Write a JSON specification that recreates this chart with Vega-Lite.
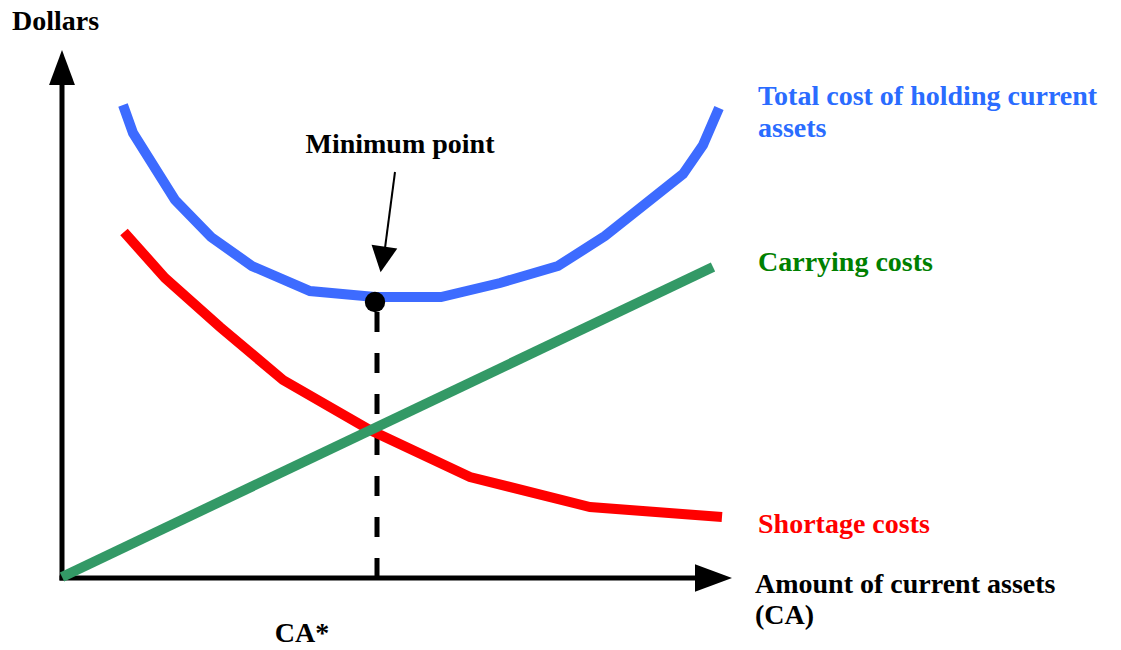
{
  "$schema": "https://vega.github.io/schema/vega-lite/v6.json",
  "width": 1121,
  "height": 650,
  "autosize": "none",
  "padding": 0,
  "background": "white",
  "config": {"view": {"stroke": null}},
  "datasets": {
    "curves": [
      {"series": "Total", "x": 61, "y": 473},
      {"series": "Total", "x": 71, "y": 445},
      {"series": "Total", "x": 113, "y": 378},
      {"series": "Total", "x": 149, "y": 341},
      {"series": "Total", "x": 190, "y": 312},
      {"series": "Total", "x": 248, "y": 287},
      {"series": "Total", "x": 313, "y": 281},
      {"series": "Total", "x": 379, "y": 281},
      {"series": "Total", "x": 438, "y": 295},
      {"series": "Total", "x": 496, "y": 312},
      {"series": "Total", "x": 543, "y": 342},
      {"series": "Total", "x": 621, "y": 404},
      {"series": "Total", "x": 641, "y": 433},
      {"series": "Total", "x": 657, "y": 470},
      {"series": "Shortage", "x": 62, "y": 346},
      {"series": "Shortage", "x": 103, "y": 300},
      {"series": "Shortage", "x": 158, "y": 251},
      {"series": "Shortage", "x": 221, "y": 198},
      {"series": "Shortage", "x": 308, "y": 148},
      {"series": "Shortage", "x": 408, "y": 101},
      {"series": "Shortage", "x": 528, "y": 71},
      {"series": "Shortage", "x": 660, "y": 61},
      {"series": "Carrying", "x": 0, "y": 1},
      {"series": "Carrying", "x": 651, "y": 311}
    ],
    "axes": [
      {"x": 0, "y": 0, "x2": 0, "y2": 500},
      {"x": 0, "y": 0, "x2": 638, "y2": 0}
    ],
    "optimum": [{"x": 315, "y": 0, "y2": 278, "dotx": 313, "doty": 276}],
    "pointer": [{"x": 333, "y": 406, "x2": 323, "y2": 330, "hx": 320.5, "hy": 318.5}],
    "yhead": [{"x": 0, "y": 510.5}],
    "xhead": [{"x": 651.5, "y": 0}],
    "labels": [
      {"group": "axis", "x": -50, "y": 548, "text": "Dollars"},
      {"group": "axis", "x": 693, "y": -15, "text": "Amount of current assets"},
      {"group": "axis", "x": 693, "y": -46, "text": "(CA)"},
      {"group": "total", "x": 696, "y": 473, "text": "Total cost of holding current"},
      {"group": "total", "x": 696, "y": 441, "text": "assets"},
      {"group": "carrying", "x": 696, "y": 307, "text": "Carrying costs"},
      {"group": "shortage", "x": 696, "y": 45, "text": "Shortage costs"}
    ],
    "centered": [
      {"x": 338, "y": 425, "text": "Minimum point"},
      {"x": 240, "y": -64, "text": "CA*"}
    ]
  },
  "layer": [
    {
      "data": {"name": "axes"},
      "mark": {"type": "rule", "color": "black", "strokeWidth": 5, "strokeCap": "square"},
      "encoding": {
        "x": {"field": "x", "type": "quantitative", "scale": {"domain": [-62, 1059], "nice": false, "zero": false}, "axis": null},
        "y": {"field": "y", "type": "quantitative", "scale": {"domain": [-72, 578], "nice": false, "zero": false}, "axis": null},
        "x2": {"field": "x2"},
        "y2": {"field": "y2"}
      }
    },
    {
      "data": {"name": "yhead"},
      "mark": {"type": "point", "shape": "M0,-1L0.74,1L-0.74,1Z", "size": 1225, "filled": true, "color": "black", "opacity": 1},
      "encoding": {
        "x": {"field": "x", "type": "quantitative"},
        "y": {"field": "y", "type": "quantitative"}
      }
    },
    {
      "data": {"name": "xhead"},
      "mark": {"type": "point", "shape": "M0,-1L0.74,1L-0.74,1Z", "size": 1369, "angle": 90, "filled": true, "color": "black", "opacity": 1},
      "encoding": {
        "x": {"field": "x", "type": "quantitative"},
        "y": {"field": "y", "type": "quantitative"}
      }
    },
    {
      "data": {"name": "optimum"},
      "mark": {"type": "rule", "color": "black", "strokeWidth": 5, "strokeDash": [20, 21]},
      "encoding": {
        "x": {"field": "x", "type": "quantitative"},
        "y": {"field": "y", "type": "quantitative"},
        "y2": {"field": "y2"}
      }
    },
    {
      "data": {"name": "curves"},
      "mark": {"type": "line", "strokeWidth": 10, "strokeCap": "butt", "strokeJoin": "miter"},
      "encoding": {
        "x": {"field": "x", "type": "quantitative"},
        "y": {"field": "y", "type": "quantitative"},
        "color": {
          "field": "series",
          "type": "nominal",
          "scale": {"domain": ["Carrying", "Shortage", "Total"], "range": ["#339966", "#ff0000", "#3d6bff"]},
          "legend": null
        },
        "order": {"value": 0}
      }
    },
    {
      "data": {"name": "optimum"},
      "mark": {"type": "point", "shape": "circle", "size": 415, "filled": true, "color": "black", "opacity": 1},
      "encoding": {
        "x": {"field": "dotx", "type": "quantitative"},
        "y": {"field": "doty", "type": "quantitative"}
      }
    },
    {
      "data": {"name": "pointer"},
      "mark": {"type": "rule", "color": "black", "strokeWidth": 2},
      "encoding": {
        "x": {"field": "x", "type": "quantitative"},
        "y": {"field": "y", "type": "quantitative"},
        "x2": {"field": "x2"},
        "y2": {"field": "y2"}
      }
    },
    {
      "data": {"name": "pointer"},
      "mark": {"type": "point", "shape": "M0,1L-1,-1L1,-1Z", "size": 676, "angle": 8.5, "filled": true, "color": "black", "opacity": 1},
      "encoding": {
        "x": {"field": "hx", "type": "quantitative"},
        "y": {"field": "hy", "type": "quantitative"}
      }
    },
    {
      "data": {"name": "labels"},
      "mark": {"type": "text", "align": "left", "baseline": "alphabetic", "font": "Liberation Serif", "fontWeight": "bold", "fontSize": 28},
      "encoding": {
        "x": {"field": "x", "type": "quantitative"},
        "y": {"field": "y", "type": "quantitative"},
        "text": {"field": "text"},
        "color": {
          "field": "group",
          "type": "nominal",
          "scale": {"domain": ["axis", "total", "carrying", "shortage"], "range": ["#000000", "#2a6cff", "#008000", "#ff0000"]},
          "legend": null
        }
      }
    },
    {
      "data": {"name": "centered"},
      "mark": {"type": "text", "align": "center", "baseline": "alphabetic", "font": "Liberation Serif", "fontWeight": "bold", "fontSize": 28, "color": "black"},
      "encoding": {
        "x": {"field": "x", "type": "quantitative"},
        "y": {"field": "y", "type": "quantitative"},
        "text": {"field": "text"}
      }
    }
  ],
  "resolve": {"scale": {"color": "independent"}}
}
